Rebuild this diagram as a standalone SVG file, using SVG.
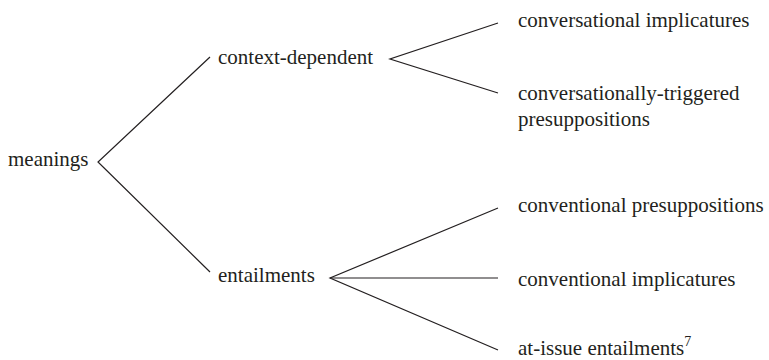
<svg xmlns="http://www.w3.org/2000/svg" width="769" height="360" viewBox="0 0 769 360">
  <style>
    text { font-family: "Liberation Serif", "Times New Roman", serif; font-size: 21px; fill: #231f20; }
    .sup { font-size: 14px; }
    .edge { stroke: #231f20; stroke-width: 1.2; fill: none; }
  </style>
  <rect width="769" height="360" fill="#ffffff"/>

  <!-- branching lines -->
  <g id="connectors">
    <path class="edge" d="M210 57 L98 162 L210 272"/>
    <path class="edge" d="M498 23 L390 59 L498 93"/>
    <path class="edge" d="M498 208 L330 278 L498 350"/>
    <path class="edge" d="M330 278 L498 278"/>
  </g>

  <g id="meanings"><text x="8" y="166">meanings</text></g>
  <g id="context-dependent"><text x="218" y="64">context-dependent</text></g>
  <g id="entailments"><text x="218" y="282">entailments</text></g>

  <g id="conversational-implicatures"><text x="518" y="27">conversational implicatures</text></g>
  <g id="conversationally-triggered"><text x="518" y="100">conversationally-triggered</text><text x="518" y="126">presuppositions</text></g>
  <g id="conventional-presuppositions"><text x="518" y="212">conventional presuppositions</text></g>
  <g id="conventional-implicatures"><text x="518" y="286">conventional implicatures</text></g>
  <g id="at-issue-entailments"><text x="518" y="355">at-issue entailments<tspan class="sup" dy="-9">7</tspan></text></g>
</svg>
